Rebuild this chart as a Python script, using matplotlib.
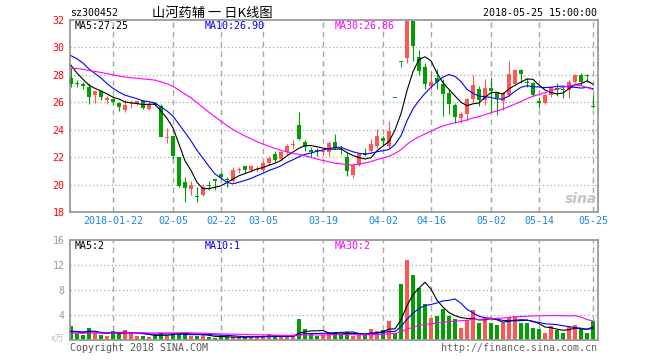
import numpy as np
import pandas as pd
import matplotlib
matplotlib.use('Agg')
import matplotlib.pyplot as plt

plt.rcParams['font.family'] = ['DejaVu Sans Mono', 'Noto Sans CJK SC']

# 日K数据 (2018-01-11 ~ 2018-05-25, 88个交易日)
opens = [27.76, 27.4, 27.3, 27.1, 26.55, 26.83, 26.2, 26.25, 25.97, 25.44,
         25.97, 25.93, 26.07, 25.5, 25.93, 25.76, 23.4, 23.54, 22.02, 20.18,
         19.7, 19.14, 19.25, 20.0, 20.4, 20.77, 20.35, 20.27, 21.04, 21.36,
         21.06, 21.08, 21.06, 21.56, 22.25, 21.85, 22.35, 22.9, 24.32, 23.09,
         22.54, 22.5, 22.4, 22.4, 23.12, 22.63, 22.0, 20.73, 21.46, 22.32,
         22.44, 22.8, 23.37, 22.8, 26.3, 28.93, 29.2, 31.95, 29.27, 28.54,
         27.22, 27.76, 27.32, 26.7, 25.8, 24.85, 25.15, 26.22, 26.95, 26.17,
         27.02, 26.73, 26.12, 26.54, 27.34, 28.37, 27.5, 27.39, 26.1, 25.93,
         26.54, 27.07, 26.92, 26.9, 27.51, 28.0, 27.95, 25.7]
highs = [28.5, 27.6, 27.5, 27.4, 26.85, 26.85, 26.45, 26.45, 26.05, 26.2,
         26.2, 26.2, 26.17, 26.05, 26.02, 25.85, 24.1, 23.54, 22.02, 20.55,
         20.27, 19.85, 20.05, 20.27, 20.4, 20.94, 20.57, 21.26, 21.26, 21.36,
         21.43, 21.36, 21.75, 22.1, 22.42, 22.42, 22.99, 23.28, 25.3, 23.23,
         22.74, 22.67, 22.6, 23.2, 23.66, 22.8, 22.32, 21.59, 22.32, 22.68,
         23.29, 24.02, 23.54, 24.63, 26.3, 28.93, 31.95, 31.95, 29.8, 28.9,
         28.2, 28.4, 27.68, 26.95, 25.98, 25.3, 26.3, 28.0, 27.2, 27.68,
         27.83, 26.78, 26.78, 28.98, 28.32, 28.4, 27.8, 27.5, 26.41, 26.66,
         27.2, 27.44, 27.15, 27.59, 28.05, 28.17, 28.05, 26.54]
lows = [27.15, 27.1, 26.95, 25.85, 25.97, 26.2, 25.85, 25.8, 25.4, 25.3,
        25.6, 25.8, 25.5, 25.44, 25.73, 23.44, 23.05, 21.85, 19.83, 18.75,
        19.27, 18.75, 19.15, 19.58, 19.58, 20.37, 19.83, 20.2, 20.82, 20.82,
        20.94, 20.94, 20.94, 21.43, 21.68, 21.75, 22.25, 22.6, 23.23, 22.42,
        22.0, 22.05, 22.1, 22.1, 22.56, 22.24, 20.6, 20.49, 21.34, 22.07,
        22.32, 22.68, 22.8, 22.68, 26.3, 28.6, 28.9, 29.0, 28.0, 27.0,
        27.0, 27.0, 25.0, 25.12, 24.5, 24.46, 24.6, 26.05, 25.73, 25.8,
        25.4, 25.1, 25.44, 26.46, 27.27, 27.44, 27.1, 26.46, 25.56, 25.88,
        26.41, 26.46, 26.3, 26.3, 27.39, 27.27, 27.5, 25.56]
closes = [27.32, 27.35, 27.2, 26.35, 26.85, 26.4, 26.25, 26.0, 25.68, 25.8,
          26.02, 26.07, 25.56, 25.85, 25.8, 23.49, 23.45, 22.1, 19.88, 19.78,
          19.95, 19.1, 19.8, 19.88, 20.27, 20.52, 20.3, 21.06, 21.08, 21.06,
          21.36, 21.12, 21.6, 21.93, 21.8, 22.35, 22.84, 22.95, 23.33, 22.74,
          22.35, 22.42, 22.45, 23.0, 22.68, 22.49, 21.02, 21.41, 22.24, 22.15,
          22.98, 23.54, 23.17, 23.9, 26.3, 28.93, 31.95, 30.1, 28.29, 27.32,
          27.46, 27.46, 26.6, 25.85, 24.95, 25.15, 26.22, 27.27, 26.17, 27.02,
          26.85, 26.3, 26.66, 28.05, 28.32, 28.07, 27.4, 26.54, 25.93, 26.54,
          27.15, 26.9, 26.88, 27.51, 28.0, 27.51, 27.9, 25.68]
# 成交量 (万手)
volumes = [2.24, 0.96, 0.8, 1.87, 1.17, 0.8, 0.64, 1.44, 1.07, 1.6,
           1.07, 0.64, 0.64, 0.53, 0.8, 1.17, 0.64, 1.17, 1.17, 1.17,
           0.64, 0.64, 0.8, 0.53, 0.32, 0.53, 0.43, 0.53, 0.43, 0.43,
           0.64, 0.64, 0.53, 0.96, 0.53, 0.53, 0.53, 0.53, 3.36, 1.76,
           1.07, 0.64, 0.8, 1.23, 1.23, 0.9, 1.23, 0.64, 1.0, 0.9,
           1.76, 1.44, 1.6, 3.04, 1.07, 8.96, 12.8, 10.4, 8.27, 5.76,
           3.52, 3.84, 4.96, 3.84, 3.31, 1.97, 3.2, 4.8, 2.77, 3.47,
           2.77, 2.4, 2.77, 3.68, 3.84, 2.77, 2.77, 1.97, 1.76, 1.12,
           2.24, 1.6, 1.12, 2.13, 2.4, 1.76, 1.12, 3.04]

# 图中窗口之前的收盘价/成交量 (用于均线起点, 按图估计)
hist_close = [28.5, 28.9, 29.1, 28.8, 28.6, 28.9, 28.6,
              28.2, 27.9, 27.6, 27.3, 27.1, 27.0, 27.2, 27.4, 27.5, 27.8, 28.1, 28.4, 28.1,
              29.6, 30.4, 30.6, 30.2, 29.7, 30.2, 29.5, 28.48, 28.0]
hist_vol = [0.9, 0.8, 1.0, 0.7, 0.9, 0.8, 1.1, 0.9, 0.8, 0.7,
            0.9, 1.0, 0.8, 0.9, 1.0, 0.8, 0.9, 0.9, 0.9, 1.0,
            1.8, 1.6, 1.5, 1.4, 1.45, 1.2, 1.1, 1.0, 1.11]

tick_idx = [7, 17, 25, 32, 42, 52, 60, 70, 78, 87]
tick_labels = ['2018-01-22', '02-05', '02-22', '03-05', '03-19',
               '04-02', '04-16', '05-02', '05-14', '05-25']

RED = '#ff5555'
GREEN = '#00a000'
GRID = '#a8a8a8'
W, H = 660, 360

n = len(closes)
x = np.arange(n)
o = np.array(opens)
c = np.array(closes)
up = c > o
colors = [RED if u else GREEN for u in up]

cs = pd.Series(hist_close + closes)
vs = pd.Series(hist_vol + volumes)
k = len(hist_close)
ma = {p: cs.rolling(p).mean().values[k:] for p in (5, 10, 30)}
vma = {p: vs.rolling(p).mean().values[k:] for p in (5, 10, 30)}
ma_colors = {5: 'black', 10: '#0000ff', 30: '#ff00ff'}

fig = plt.figure(figsize=(W / 100, H / 100), dpi=100)
ax1 = fig.add_axes([70 / W, 1 - 212 / H, 528 / W, 192 / H])
ax2 = fig.add_axes([70 / W, 1 - 340 / H, 528 / W, 100 / H])

xlim = (-1 / 6, 527 / 6)


def style_axis(ax, yticks, gridy, ycolor):
    ax.set_xlim(*xlim)
    for s in ax.spines.values():
        s.set_color('#999999')
        s.set_linewidth(1.3)
    for gy in gridy:
        ax.axhline(gy, color=GRID, lw=0.9, ls=(0, (1, 2)), zorder=0)
    for t in tick_idx:
        ax.axvline(t, color=GRID, lw=1.0, ls=(0, (4, 3)), zorder=0)
    ax.set_yticks(yticks)
    ax.tick_params(axis='y', length=0, pad=4, labelsize=7.2, labelcolor=ycolor)
    ax.tick_params(axis='x', length=0)


# K线
ax1.vlines(x, lows, highs, colors=colors, lw=0.8, zorder=2)
body_bottom = np.minimum(o, c)
body_h = np.maximum(np.abs(c - o), 0.08)
ax1.bar(x, body_h, bottom=body_bottom, width=0.78, color=colors, lw=0, zorder=3)
for p in (5, 10, 30):
    ax1.plot(x, ma[p], color=ma_colors[p], lw=0.8, zorder=4)
ax1.set_ylim(18, 32)
style_axis(ax1, [18, 20, 22, 24, 26, 28, 30, 32], [20, 22, 24, 26, 28, 30], 'red')
ax1.set_xticks(tick_idx)
ax1.set_xticklabels(tick_labels, fontsize=7.2, color='#1a85e0')
ax1.tick_params(axis='x', pad=3)

# 成交量
ax2.bar(x, volumes, width=0.8, color=colors, lw=0, zorder=2)
for p in (5, 10, 30):
    ax2.plot(x, vma[p], color=ma_colors[p], lw=0.8, zorder=4)
ax2.set_ylim(0, 16)
style_axis(ax2, [4, 8, 12, 16], [4, 8, 12], '#999999')
ax2.set_xticks([])


def ftext(px, py, s, **kw):
    fig.text(px / W, 1 - py / H, s, va='center', **kw)


ftext(70, 13, 'sz300452', fontsize=7.2, color='black')
ftext(212, 13, '山河药辅 一 日K线图', fontsize=9.5, ha='center', color='black',
      family=['Noto Sans CJK SC', 'DejaVu Sans'])
ftext(597, 13, '2018-05-25 15:00:00', fontsize=7.2, ha='right', color='black')

ftext(75, 26, 'MA5:27.25', fontsize=7.2, color='black')
ftext(205, 26, 'MA10:26.90', fontsize=7.2, color='#0000ff')
ftext(335, 26, 'MA30:26.86', fontsize=7.2, color='#ff00ff')

ftext(75, 246, 'MA5:2', fontsize=7.2, color='black')
ftext(205, 246, 'MA10:1', fontsize=7.2, color='#0000ff')
ftext(335, 246, 'MA30:2', fontsize=7.2, color='#ff00ff')

ftext(64, 339, 'x万', fontsize=6.5, ha='right', color='#bbbbbb',
      family=['Noto Sans CJK SC', 'DejaVu Sans'])
ftext(70, 348, 'Copyright 2018 SINA.COM', fontsize=7.2, color='#555555')
ftext(597, 348, 'http://finance.sina.com.cn', fontsize=7.2, ha='right', color='#666666')

# 水印
ftext(581, 199, 'sina', fontsize=10, ha='center', color='#c4c4c4',
      style='italic', weight='bold', family='DejaVu Sans')

fig.savefig('out.png', dpi=100)
